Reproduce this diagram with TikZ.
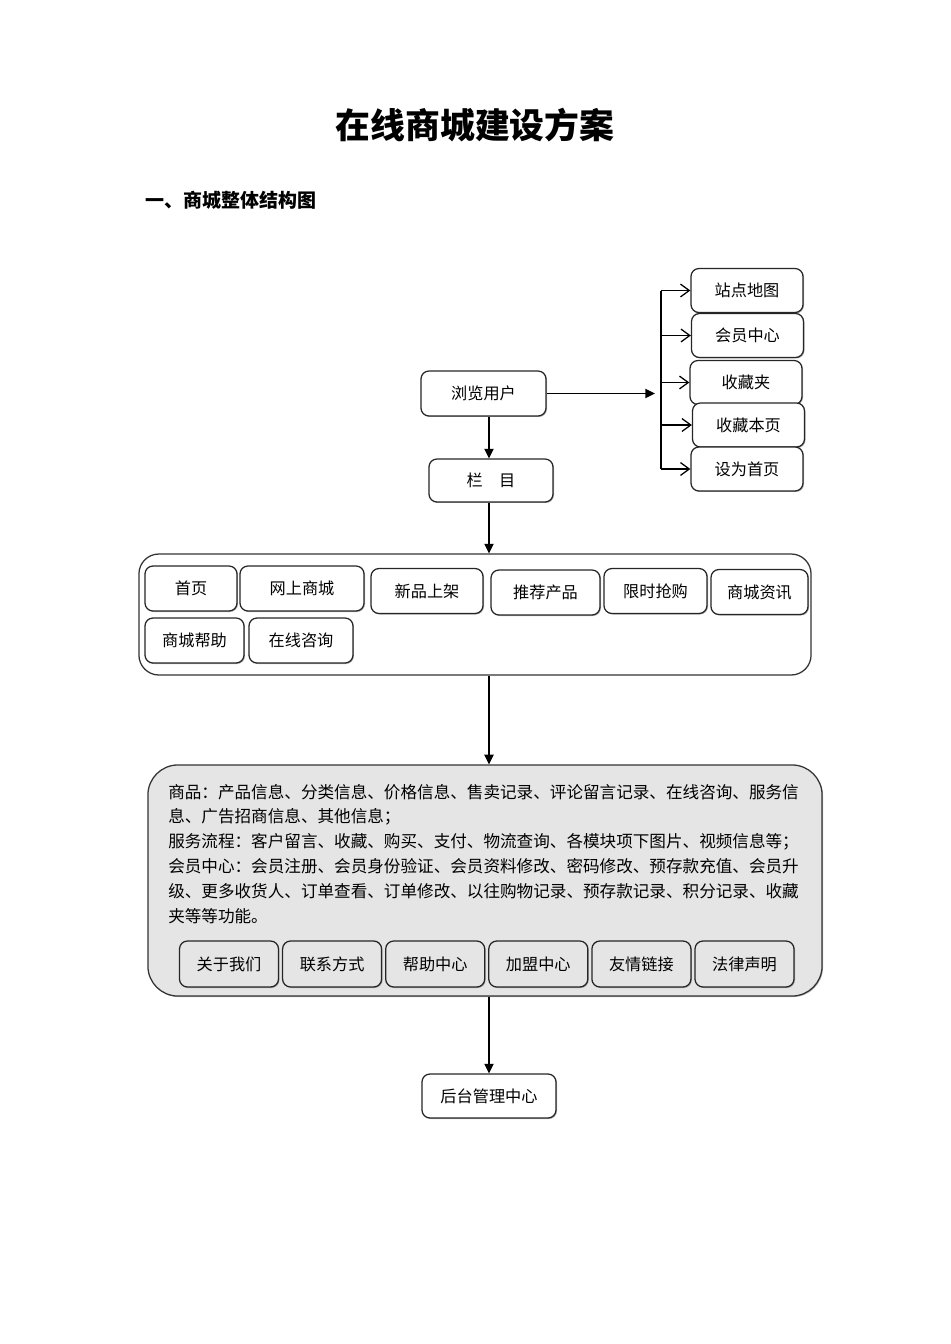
\documentclass[tikz,border=0pt]{standalone}
\usepackage{fontspec}
\setmainfont{Noto Sans CJK SC}
\usetikzlibrary{arrows.meta,shadows}

\begin{document}
\begin{tikzpicture}[
	x=0.025cm,y=-0.025cm,
	sz/.style 2 args={minimum width=#1*0.25mm,minimum height=#2*0.25mm},
	box/.style={draw=black!85,fill=white,rounded corners=2mm,line width=0.9pt,inner sep=0pt,
		font=\fontsize{11.5}{14}\selectfont,
		drop shadow={shadow xshift=0.7pt,shadow yshift=-0.7pt,opacity=0.6}},
	frame/.style={draw=black!80,rounded corners=5mm,line width=0.9pt},
	info/.style={draw=black!80,fill=black!10,rounded corners=7.5mm,line width=0.9pt,
		drop shadow={shadow xshift=0.7pt,shadow yshift=-0.7pt,opacity=0.6}},
	txt/.style={inner sep=0pt,font=\fontsize{11.8}{14}\selectfont},
	link/.style={draw=black,line width=0.9pt},
	arr/.style={-{Triangle[length=2.4mm,width=2.3mm]},draw=black,line width=0.9pt},
	barb/.style={-{Straight Barb[length=2.2mm,width=3.2mm]},draw=black,line width=0.9pt}]
	\useasboundingbox (0,0) rectangle (950,1344);
	\node[font=\fontsize{24.8}{30}\selectfont\bfseries] (title) at (475,125) {在线商城建设方案};
	\node[anchor=west,inner sep=0pt,font=\fontsize{13.5}{16}\selectfont\bfseries] (head) at (145,200) {一、商城整体结构图};
	\node[box,sz={125}{45}] (liulan) at (483.5,393.5) {浏览用户};
	\node[box,sz={124}{43}] (lanmu) at (491,480.5) {栏\quad 目};
	\foreach \t/\cx/\cy [count=\i] in {站点地图/747/290.5,会员中心/747.5/335.5,收藏夹/746/382.5,收藏本页/748.5/425,设为首页/747/469}
	\node[box,sz={112}{44}] (r\i) at (\cx,\cy) {\t};
	\coordinate (hub) at (655,393.5);
	\coordinate (bus) at (661,393.5);
	\node[frame,sz={672}{121}] (lanmulist) at (475,614.5) {};
	\foreach \t/\cx/\cy/\w [count=\i] in {首页/191/588.5/92,网上商城/302/588.5/124,新品上架/427/591/112,推荐产品/545.5/592.5/109,限时抢购/655.5/591/103,商城资讯/759.5/592/97,商城帮助/194.5/640.5/99,在线咨询/301/640.5/104}
	\node[box,sz={\w}{45}] (c\i) at (\cx,\cy) {\t};
	\node[info,sz={674}{231}] (info) at (485,880.5) {};
	\foreach \t [count=\i from 0] in {
		商品：产品信息、分类信息、价格信息、售卖记录、评论留言记录、在线咨询、服务信,
		息、广告招商信息、其他信息；,
		服务流程：客户留言、收藏、购买、支付、物流查询、各模块项下图片、视频信息等；,
		会员中心：会员注册、会员身份验证、会员资料修改、密码修改、预存款充值、会员升,
		级、更多收货人、订单查看、订单修改、以往购物记录、预存款记录、积分记录、收藏,
		夹等等功能。}
	\node[txt,anchor=base west] (line\i) at (168,798+24.8*\i) {\t};
	\foreach \t [count=\i from 0] in {关于我们,联系方式,帮助中心,加盟中心,友情链接,法律声明}
	\node[box,fill=black!10,sz={99}{46}] (b\i) at (229+103.1*\i,964) {\t};
	\node[box,sz={134}{44}] (houtai) at (489,1096) {后台管理中心};
	\draw[arr] (liulan.south -| houtai) -- (lanmu.north -| houtai);
	\draw[arr] (liulan.east) -- (hub);
	\draw[link] (bus |- r1.west) -- (bus |- r5.west);
	\foreach \i in {1,...,5}
	\draw[barb] (bus |- r\i.west) -- (r\i.west);
	\draw[arr] (lanmu.south -| houtai) -- (lanmulist.north -| houtai);
	\draw[arr] (lanmulist.south -| houtai) -- (info.north -| houtai);
	\draw[arr] (info.south -| houtai) -- (houtai.north);
\end{tikzpicture}
\end{document}
